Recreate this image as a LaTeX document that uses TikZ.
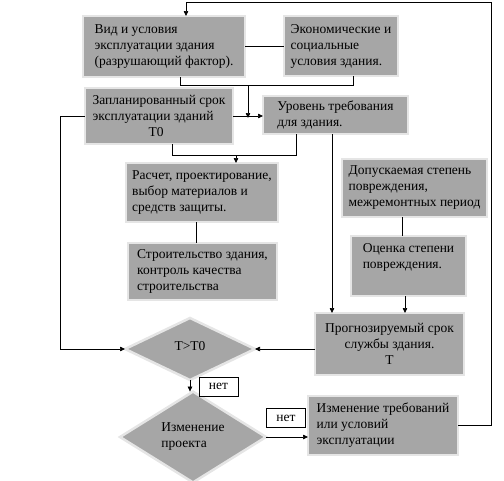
\documentclass[tikz,border=0pt]{standalone}
\usepackage{fontspec}
\setmainfont{Liberation Serif}
\newfontfamily\boxfont{Liberation Serif}
\usetikzlibrary{shapes.geometric,arrows.meta,calc}

\begin{document}
\begin{tikzpicture}[x=1pt,y=-1pt,
    font=\boxfont\fontsize{13.5}{16}\selectfont,
    box/.style={anchor=north west, fill=black!35, draw=black!10, line width=2.5pt,
      inner sep=0pt, outer sep=0pt, align=left},
    rhomb/.style={diamond, fill=black!35, draw=black!10, line width=2.5pt,
      inner sep=0pt, outer sep=0pt, align=left},
    nobox/.style={draw, fill=white, line width=.6pt, minimum width=39, minimum height=19, inner sep=0pt},
    link/.style={line width=.7pt},
    arr/.style={link, -{Triangle[length=5pt,width=4.5pt]}}]
    \useasboundingbox (0,0) rectangle (504,480);
    % блоки
    \node[box, minimum width=162, minimum height=61] (vid) at (83,16) {Вид и условия\\эксплуатации здания\\(разрушающий фактор).};
    \node[box, minimum width=114, minimum height=60] (econ) at (284,16) {Экономические и\\социальные\\условия здания.};
    \node[box, minimum width=148, minimum height=56] (plan) at (85,88) {Запланированный срок\\эксплуатации зданий\\\hspace*{56pt}T0};
    \node[box, minimum width=145, minimum height=38] (level) at (263,96) {Уровень требования\\для здания.};
    \node[box, minimum width=152, minimum height=59] (calc) at (126,163) {Расчет, проектирование,\\выбор материалов и\\средств защиты.};
    \node[box, minimum width=145, minimum height=58] (allow) at (342,159) {Допускаемая степень\\повреждения,\\межремонтных период};
    \node[box, minimum width=149, minimum height=57] (build) at (128,243) {Строительство здания,\\контроль качества\\строительства};
    \node[box, minimum width=115, minimum height=60] (assess) at (351,236) {Оценка степени\\повреждения.\\\strut};
    \node[box, minimum width=149, minimum height=62, align=center] (prog) at (315,313) {Прогнозируемый срок\\службы здания.\\T};
    \node[box, minimum width=150, minimum height=59] (change) at (308,396) {Изменение требований\\или условий\\эксплуатации};
    \node[rhomb, minimum width=130, minimum height=62] (dT) at (190,349) {\raisebox{6pt}{T>T0}};
    \node[rhomb, minimum width=146, minimum height=76] (dP) at (193,437) {Изменение\\проекта};
    \node[nobox] (no1) at (218.5,386.5) {нет};
    \node[nobox] (no2) at (286,418) {нет};
    % точки излома
    \coordinate (j1) at (180,85); \coordinate (j2) at (353,85); \coordinate (j3) at (248,85);
    \coordinate (j4) at (172,155); \coordinate (j5) at (296,155); \coordinate (j6) at (236,155);
    \coordinate (j7) at (196,0); \coordinate (j8) at (332,0); \coordinate (j9) at (402,0);
    \coordinate (j10) at (405,0); \coordinate (j11) at (60,0);
    \coordinate (j12) at (491,2); \coordinate (j13) at (186,2);
    % связи
    \draw[link] (vid.east) -- (vid.east -| econ.west);
    \draw[link] (j1 |- vid.south) -- (j1) -- (j2) -- (j2 |- econ.south);
    \draw[arr] (j3) -- ([yshift=-2]j3 |- plan.east);
    \draw[arr] (plan.east) -- (plan.east -| level.west);
    \draw[link] (j4 |- plan.south) -- (j4) -- (j5) -- (j5 |- level.south);
    \draw[arr] (j6) -- (j6 |- calc.north);
    \draw[link] (j7 |- calc.south) -- (j7 |- build.north);
    \draw[arr] (j8 |- level.south) -- (j8 |- prog.north);
    \draw[link] (j9 |- allow.south) -- (j9 |- assess.north);
    \draw[arr] (j10 |- assess.south) -- (j10 |- prog.north);
    \draw[arr] (dT.east -| prog.west) -- (dT.east);
    \draw[arr] (plan.west) -- (j11 |- plan.west) -- (j11 |- dT) -- (dT.west);
    \draw[arr] (dT.south) -- (dT.south |- dP.north);
    \draw[arr] (dP.east) -- (dP.east -| change.west);
    \draw[arr] (change.east) -- (change.east -| j12) -- (j12) -- (j13) -- (j13 |- vid.north);
\end{tikzpicture}
\end{document}
